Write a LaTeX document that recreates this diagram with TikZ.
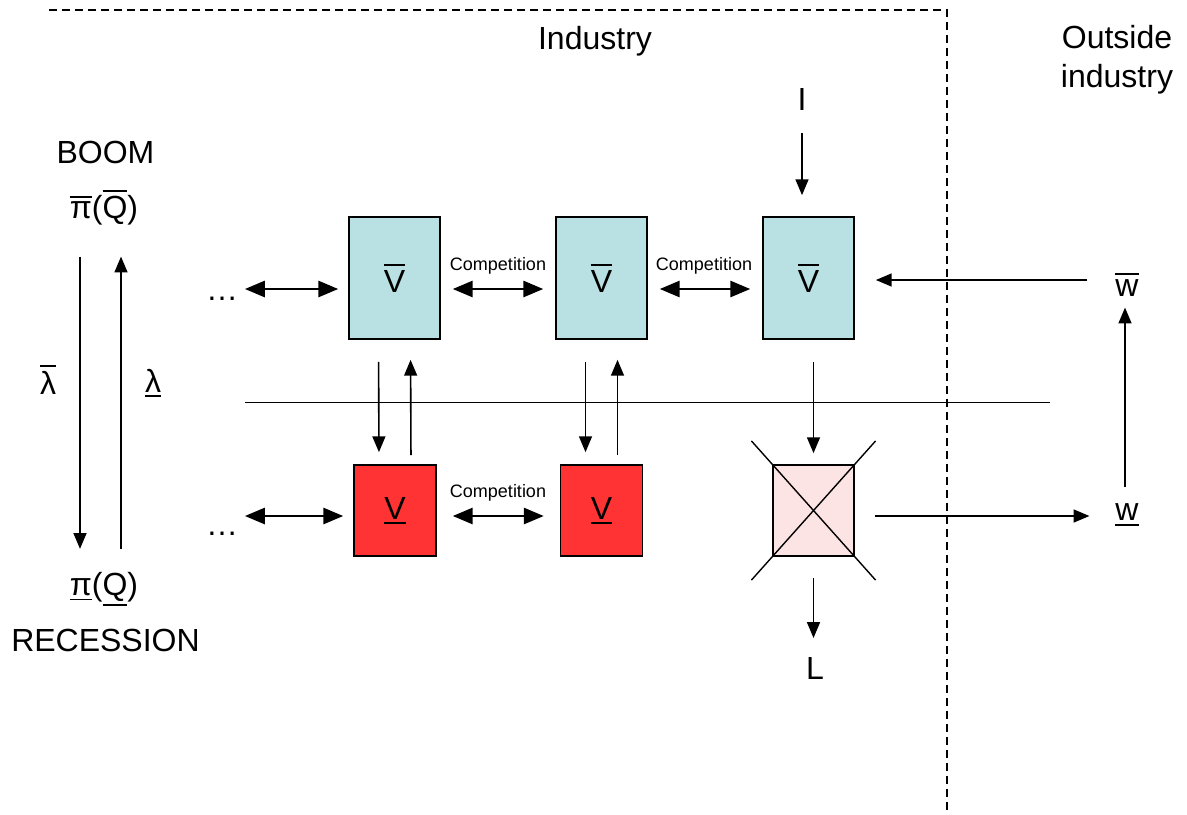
\documentclass[tikz,border=0pt]{standalone}
\usepackage{fontspec}
\setmainfont{Liberation Sans}
\usepackage{tikz}
\usetikzlibrary{arrows}
\usetikzlibrary{calc}
\definecolor{boomblue}{RGB}{185,224,227}
\definecolor{recred}{RGB}{255,51,51}
\definecolor{gonepink}{RGB}{253,228,228}
\newcommand{\bartext}[1]{\leavevmode\vbox{\hrule height 0.9pt\kern 2.2pt\hbox{#1}}}
\newcommand{\undertext}[1]{\leavevmode\vtop{\hbox{#1}\kern 1.6pt\hrule height 0.9pt}}
\tikzset{
  big/.style={font=\fontsize{16}{19.5}\selectfont},
  small/.style={font=\fontsize{9}{11}\selectfont},
  upfirm/.style={rectangle,draw,line width=0.9pt,fill=boomblue,minimum width=45.5pt,minimum height=61pt,big},
  downfirm/.style={rectangle,draw,line width=0.9pt,fill=recred,minimum width=41pt,minimum height=45.5pt,big},
  gonefirm/.style={rectangle,draw,line width=0.9pt,fill=gonepink,minimum width=40.5pt,minimum height=45.5pt},
  flow/.style={-triangle 45,line width=0.8pt},
  rivalry/.style={triangle 45-triangle 45,line width=1.3pt}
}

\begin{document}
\begin{tikzpicture}[x=0.5pt,y=-0.5pt]
\useasboundingbox (0,0) rectangle (1187,814);

% industry frame
\draw[line width=0.75pt,dash pattern=on 4pt off 2.5pt] (49,10) -- (947,10) -- (947,814);
\draw (595,41) node[big] (industry) {Industry};
\draw (1117,60) node[big,align=center] (outside) {Outside\\industry};

% business cycle
\draw (105.5,152) node[big] (boom) {BOOM};
\draw (104,208) node[big] (pitop) {\bartext{π}(\bartext{Q})};
\draw (104,589) node[big] (pibot) {\undertext{π}(\undertext{Q})};
\draw (105.5,640) node[big] (recession) {RECESSION};
\draw (48,380) node[big] (lamtop) {\bartext{λ}};
\draw (153,383) node[big] (lambot) {\undertext{λ}};
\draw[flow,shorten <=12pt,shorten >=8pt] ([xshift=-12pt]pitop.south) -- ([xshift=-12pt]pibot.north);
\draw[flow,shorten <=8pt,shorten >=12pt] ([xshift=8.5pt]pibot.north) -- ([xshift=8.5pt]pitop.south);

% firms
\draw (394.5,278) node[upfirm] (up1) {\raisebox{-2.5pt}{\bartext{V}}};
\draw (601.5,278) node[upfirm] (up2) {\raisebox{-2.5pt}{\bartext{V}}};
\draw (808.5,278) node[upfirm] (up3) {\raisebox{-2.5pt}{\bartext{V}}};
\draw (395,510.5) node[downfirm] (down1) {\undertext{V}};
\draw (601.5,510.5) node[downfirm] (down2) {\undertext{V}};
\draw (813.5,510.5) node[gonefirm] (gone) {};
\draw[line width=0.7pt] ($(gone.north west)!-0.25!(gone.south east)$) -- ($(gone.south east)!-0.25!(gone.north west)$);
\draw[line width=0.7pt] ($(gone.north east)!-0.25!(gone.south west)$) -- ($(gone.south west)!-0.25!(gone.north east)$);

\draw (222,300) node[big,anchor=base] (dots1) {…};
\draw (222,535) node[big,anchor=base] (dots2) {…};
\draw (498,266) node[small] (comp1) {Competition};
\draw (704,266) node[small] (comp2) {Competition};
\draw (498,493) node[small] (comp3) {Competition};

\draw[rivalry,shorten >=5pt] ([yshift=-5.5pt]up1.west -| dots1.east) -- ([yshift=-5.5pt]up1.west);
\draw[rivalry,shorten <=6pt,shorten >=6pt] ([yshift=-5.5pt]up1.east) -- ([yshift=-5.5pt]up2.west);
\draw[rivalry,shorten <=6pt,shorten >=6pt] ([yshift=-5.5pt]up2.east) -- ([yshift=-5.5pt]up3.west);
\draw[rivalry,shorten >=5pt] ([yshift=-2.75pt]down1.west -| dots2.east) -- ([yshift=-2.75pt]down1.west);
\draw[rivalry,shorten <=8pt,shorten >=8pt] ([yshift=-2.75pt]down1.east) -- ([yshift=-2.75pt]down2.west);

% entry and exit
\draw (245,402) -- (1050,402);
\draw[flow,shorten <=11pt,shorten >=6pt] ([xshift=-8pt]up1.south) -- ([xshift=-8pt]down1.north);
\draw[flow,shorten <=4.5pt,shorten >=10pt] ([xshift=8pt]down1.north) -- ([xshift=8pt]up1.south);
\draw[flow,shorten <=11pt,shorten >=6pt] ([xshift=-8pt]up2.south) -- ([xshift=-8pt]down2.north);
\draw[flow,shorten <=4.5pt,shorten >=10pt] ([xshift=8pt]down2.north) -- ([xshift=8pt]up2.south);
\draw[flow,shorten <=11pt,shorten >=5.5pt] (up3.south -| gone) -- (gone.north);

\draw (802,99) node[big] (inv) {I};
\draw[flow,shorten <=8pt,shorten >=10.5pt] (inv.south) -- (inv.south |- up3.north);
\draw (815,668) node[big] (labour) {L};
\draw[flow,shorten <=10.5pt,shorten >=6pt] (gone.south) -- (gone.south |- labour.north);

% wages
\draw (1127,285) node[big] (wbar) {\bartext{w}};
\draw (1127,515) node[big] (wlow) {\undertext{w}};
\draw[flow,shorten <=10.5pt,shorten >=10.5pt] ([yshift=-1pt]up3.east -| wbar.west) -- ([yshift=-1pt]up3.east);
\draw[flow,shorten <=10pt,shorten >=9.5pt] ([yshift=-2.75pt]gone.east) -- ([yshift=-2.75pt]gone.east -| wlow.west);
\draw[flow,shorten <=5pt,shorten >=2pt] ([xshift=-1pt]wlow.north) -- ([xshift=-1pt]wbar.south);
\end{tikzpicture}
\end{document}
